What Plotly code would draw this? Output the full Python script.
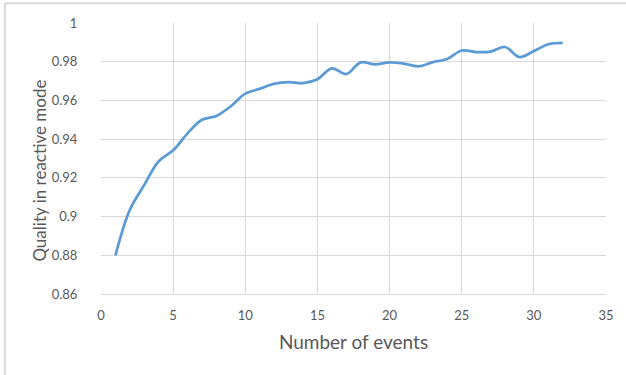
import plotly.graph_objects as go

# Quality achieved in reactive mode as the number of events grows
events = list(range(1, 33))
quality = [
    0.880, 0.9035, 0.9164, 0.9286, 0.9342, 0.943, 0.950, 0.952,
    0.957, 0.9635, 0.966, 0.9686, 0.9695, 0.969, 0.971, 0.9766,
    0.9736, 0.9797, 0.9786, 0.9797, 0.979, 0.9776, 0.9798, 0.9814,
    0.9858, 0.985, 0.9852, 0.9876, 0.9824, 0.9855, 0.989, 0.9897,
]

x_ticks = [0, 5, 10, 15, 20, 25, 30, 35]
y_ticks = [0.86, 0.88, 0.90, 0.92, 0.94, 0.96, 0.98, 1.00]
y_tick_text = ["0.86", "0.88", "0.9", "0.92", "0.94", "0.96", "0.98", "1"]

FONT = "Lato, 'Open Sans', sans-serif"
TEXT = "#595959"
GRID = "#d9d9d9"

fig = go.Figure(
    go.Scatter(
        x=events,
        y=quality,
        mode="lines",
        line=dict(color="#5b9bd5", width=2.75, shape="spline", smoothing=1),
        hoverinfo="x+y",
    )
)

fig.update_layout(
    width=626,
    height=375,
    margin=dict(l=100.7, r=20.2, t=23.3, b=81),
    paper_bgcolor="white",
    plot_bgcolor="white",
    showlegend=False,
    font=dict(family=FONT, color=TEXT, size=13),
    xaxis=dict(
        range=[0, 35],
        tickvals=x_ticks,
        showgrid=True,
        gridcolor=GRID,
        gridwidth=1,
        zeroline=False,
        showline=True,
        linecolor=GRID,
        linewidth=1,
        mirror=False,
        ticks="outside",
        ticklen=9,
        tickcolor="rgba(0,0,0,0)",
        tickfont=dict(size=13, color=TEXT),
        title=dict(text="Number of events", font=dict(size=19, color=TEXT), standoff=14),
    ),
    yaxis=dict(
        range=[0.86, 1.0],
        tickvals=y_ticks,
        ticktext=y_tick_text,
        showgrid=True,
        gridcolor=GRID,
        gridwidth=1,
        zeroline=False,
        showline=False,
        ticks="outside",
        ticklen=20,
        tickcolor="rgba(0,0,0,0)",
        tickfont=dict(size=13, color=TEXT),
    ),
    annotations=[
        dict(
            text="Quality in reactive mode",
            xref="paper", yref="paper",
            x=-0.1215, y=0.454,
            xanchor="center", yanchor="middle",
            textangle=-90,
            showarrow=False,
            font=dict(family=FONT, size=17, color=TEXT),
        )
    ],
    shapes=[
        # chart frame edges (top and left)
        dict(type="line", xref="paper", yref="paper",
             x0=-0.1905, x1=1.1, y0=1.0732, y1=1.0732,
             line=dict(color=GRID, width=2)),
        dict(type="line", xref="paper", yref="paper",
             x0=-0.1905, x1=-0.1905, y0=1.0732, y1=-0.35,
             line=dict(color=GRID, width=2)),
    ],
)

fig.write_html("out.html")
